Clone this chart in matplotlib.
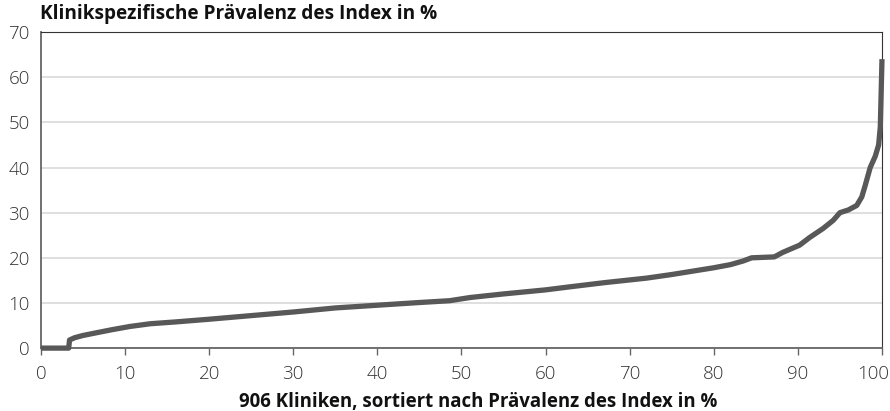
import matplotlib
matplotlib.use("Agg")
import matplotlib.pyplot as plt
from matplotlib.transforms import ScaledTranslation

# Kliniken nach Praevalenz sortiert: Rang in % und Praevalenz in %
rang_pct = [0, 3.3, 3.4, 4, 5, 6.6, 8.5, 10.6, 13, 16, 20, 25, 30, 35, 40, 45,
            48.6, 51, 55, 60, 63, 67, 72, 75, 80, 82, 83.5, 84.5, 87.2, 88.2,
            90.2, 91.4, 93, 94.2, 95, 96, 97, 97.6, 98, 98.6, 99.2, 99.6,
            99.8, 100]
praevalenz = [0, 0, 1.8, 2.3, 2.8, 3.4, 4.1, 4.8, 5.4, 5.8, 6.4, 7.2, 8.0,
              8.9, 9.5, 10.1, 10.5, 11.2, 12.0, 12.9, 13.6, 14.5, 15.5, 16.3,
              17.8, 18.5, 19.3, 20.0, 20.2, 21.2, 22.8, 24.5, 26.5, 28.3, 30.0,
              30.6, 31.6, 33.5, 36, 40, 42.5, 45, 49, 64]

x_ticks = [0, 10, 20, 30, 40, 50, 60, 70, 80, 90, 100]
y_ticks = [0, 10, 20, 30, 40, 50, 60, 70]

titel = "Klinikspezifische Prävalenz des Index in %"
x_label = "906 Kliniken, sortiert nach Prävalenz des Index in %"

plt.rcParams['font.family'] = ['Open Sans', 'DejaVu Sans']

fig = plt.figure(figsize=(8.9, 4.11), dpi=100)
ax = fig.add_axes([0.046, 0.153, 0.945, 0.769])

ax.plot(rang_pct, praevalenz, color='#585858', lw=3.8,
        solid_capstyle='butt', solid_joinstyle='round', zorder=3,
        clip_on=False)

ax.set_xlim(0, 100)
ax.set_ylim(0, 70)
ax.set_xticks(x_ticks)
ax.set_yticks(y_ticks)
ax.grid(axis='y', color='#d9d9d9', lw=1.2)
ax.set_axisbelow(True)

for s in ['left', 'bottom']:
    ax.spines[s].set_color('#666666')
    ax.spines[s].set_linewidth(1.3)
for s in ['top', 'right']:
    ax.spines[s].set_color('#333333')
    ax.spines[s].set_linewidth(0.8)

ax.tick_params(axis='x', length=5, width=1, color='#666666', pad=7,
               labelsize=13.5, labelcolor='#333333')
ax.tick_params(axis='y', length=0, pad=8, labelsize=13.5,
               labelcolor='#333333')
for lab in ax.get_xticklabels() + ax.get_yticklabels():
    lab.set_fontweight('light')

# "100" am rechten Rand etwas nach links ruecken
last = ax.get_xticklabels()[-1]
last.set_transform(last.get_transform() +
                   ScaledTranslation(-9 / 100, 0, fig.dpi_scale_trans))

fig.text(0.045, 0.99, titel, ha='left', va='top', fontsize=13.7,
         fontweight='bold', color='#111111')
ax.set_xlabel(x_label, fontsize=13.4, fontweight='bold', color='#111111')
ax.xaxis.label.set_va('baseline')
ax.xaxis.set_label_coords(0.52, -0.187)

fig.savefig('out.png', dpi=100)
